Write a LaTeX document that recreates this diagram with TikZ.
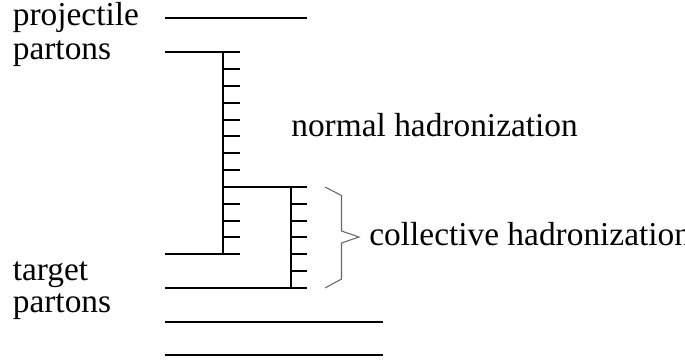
\documentclass[tikz,border=0pt]{standalone}
\usepackage{fontspec}
\setmainfont{Liberation Serif}
\usepackage{tikz}
\usetikzlibrary{positioning, calc}
\tikzset{
    parton/.style={line width=1.1pt, black},
    rung/.style={line width=1.1pt, black},
    bracket/.style={line width=0.6pt, gray!80!black, line join=miter},
    txt/.style={inner sep=0pt, anchor=base west, font=\fontsize{19}{23}\selectfont}
}

\begin{document}
\begin{tikzpicture}[x=0.02cm, y=-0.02cm]
    \useasboundingbox (0,0) rectangle (685,360);
    % text on the left
    \node[txt] (proj) at (12.5,25.5) {projectile};
    \node[txt] (projp) at (12.5,59.5) {partons};
    \node[txt] (targ) at (12.5,280) {target};
    \node[txt] (targp) at (12.5,312) {partons};
    \node[txt] (normal) at (291,136) {normal hadronization};
    \node[txt] (collective) at (369,245) {collective hadronization};
    % parton lines
    \coordinate (projL) at (165,18.3);   \coordinate (projR) at (307,18.3);
    \coordinate (partL) at (165,52.3);   \coordinate (partR) at (240,52.3);
    \coordinate (stemT) at (223.3,52.3); \coordinate (stemB) at (223.3,254.3);
    \coordinate (branchL) at (223.3,186.9); \coordinate (branchR) at (307,186.9);
    \coordinate (rstemT) at (290.7,186.9); \coordinate (rstemB) at (290.7,288);
    \coordinate (targL) at (165,254.3);  \coordinate (targR) at (240,254.3);
    \coordinate (botL) at (165,288);     \coordinate (botR) at (307,288);
    \coordinate (seaAL) at (165,321.6);  \coordinate (seaAR) at (383,321.6);
    \coordinate (seaBL) at (165,355.3);  \coordinate (seaBR) at (383,355.3);
    \draw[parton] (projL) -- (projR);
    \draw[parton] (partL) -- (partR);
    \draw[parton] (stemT) -- (stemB);
    \draw[parton] (branchL) -- (branchR);
    \draw[parton] (rstemT) -- (rstemB);
    \draw[parton] (targL) -- (targR);
    \draw[parton] (botL) -- (botR);
    \draw[parton] (seaAL) -- (seaAR);
    \draw[parton] (seaBL) -- (seaBR);
    % hadron rungs
    \foreach \k in {1,...,11}
        \draw[rung] ($(stemT)+(0,16.83*\k)$) -- ++(16.7,0);
    \foreach \k in {1,...,5}
        \draw[rung] ($(rstemT)+(0,16.83*\k)$) -- ++(16.3,0);
    % brace
    \draw[bracket] (325,187) -- (341.5,195.5) -- (341.5,231) -- (359,237)
        -- (341.5,243) -- (341.5,279) -- (325,288);
\end{tikzpicture}
\end{document}
